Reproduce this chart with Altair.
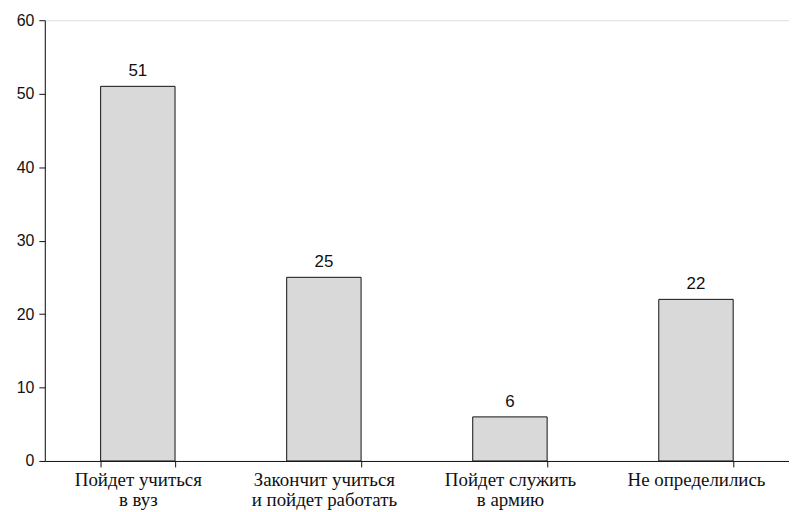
import altair as alt
import pandas as pd

categories = ["Пойдет учиться|в вуз", "Закончит учиться|и пойдет работать",
              "Пойдет служить|в армию", "Не определились"]
values = [51, 25, 6, 22]
y_ticks = [0, 10, 20, 30, 40, 50, 60]

df = pd.DataFrame({"cat": categories, "val": values})

x = alt.X("cat:N", sort=None, title=None,
          scale=alt.Scale(paddingInner=0.6, paddingOuter=0.3),
          axis=alt.Axis(labelAngle=0, labelExpr="split(datum.label, '|')",
                        labelFont="Liberation Serif, serif", labelFontSize=19,
                        labelLineHeight=20, labelColor="#111",
                        tickBand="extent", tickSize=6, tickColor="#111",
                        domainColor="#111", labelPadding=4, labelLimit=300))
y = alt.Y("val:Q", title=None,
          scale=alt.Scale(domain=[0, 60], nice=False),
          axis=alt.Axis(values=y_ticks, grid=False, tickSize=6, tickColor="#111",
                        domainColor="#111", labelFont="Liberation Sans",
                        labelFontSize=16, labelColor="#111", labelPadding=5))

bars = alt.Chart(df).mark_bar(fill="#d9d9d9", stroke="#111", strokeWidth=1).encode(x=x, y=y)
labels = alt.Chart(df).mark_text(font="Liberation Sans", fontSize=17, color="#111",
                                 baseline="bottom", dy=-6).encode(x=x, y=y, text="val:Q")

chart = (bars + labels).properties(
    width=748, height=443,
    autosize=alt.AutoSizeParams(type="none"),
    padding={"left": 37, "top": 11, "right": 0, "bottom": 50},
).configure_view(stroke=None).configure(background="white")

chart.save("out.html", embed_options={"renderer": "svg", "actions": False})
